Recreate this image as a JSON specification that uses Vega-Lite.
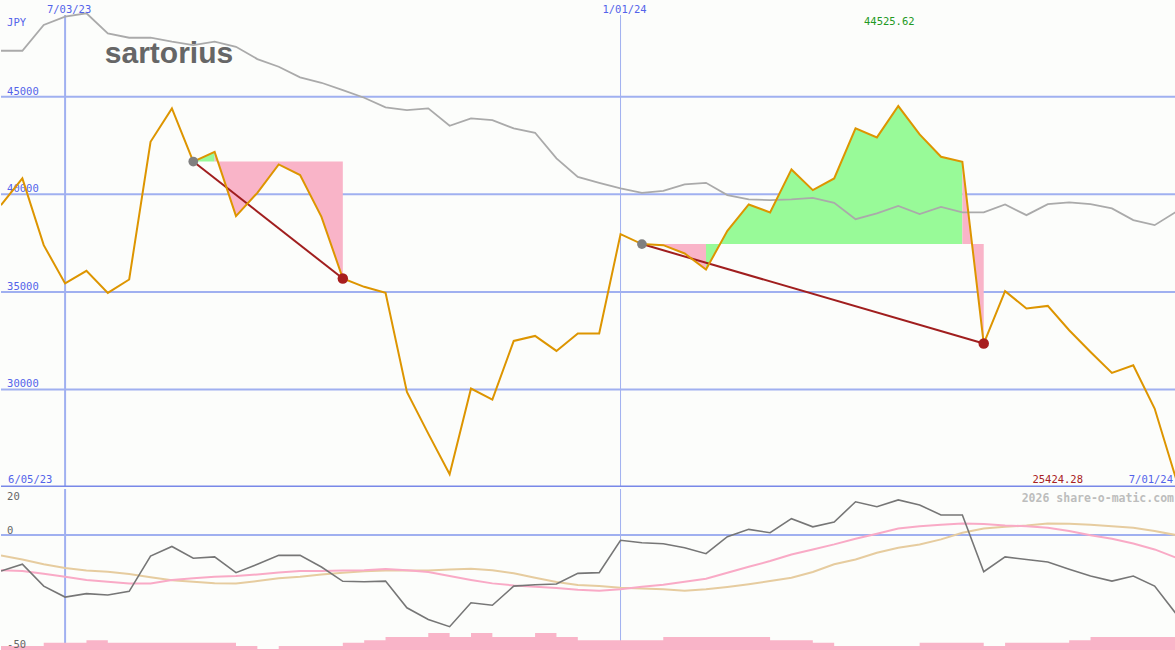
{
  "$schema": "https://vega.github.io/schema/vega-lite/v6.json",
  "background": "#FCFDFB",
  "padding": 0,
  "spacing": 0,
  "config": {"view": {"stroke": null}, "axis": {"disable": true}, "text": {"font": "DejaVu Sans Mono", "fontSize": 10.5}},
  "datasets": {
    "w": [
      {"i":0,"d":"2023-06-12","p":39446,"b":47359,"m":-15.8,"k":-15.4,"t":-9.0,"v":120},
      {"i":1,"d":"2023-06-19","p":40815,"b":47359,"m":-12.8,"k":-15.8,"t":-10.7,"v":120},
      {"i":2,"d":"2023-06-26","p":37395,"b":48677,"m":-22.4,"k":-17.0,"t":-12.8,"v":186},
      {"i":3,"d":"2023-07-03","p":35431,"b":49103,"m":-27.2,"k":-18.3,"t":-14.5,"v":186},
      {"i":4,"d":"2023-07-10","p":36077,"b":49277,"m":-25.7,"k":-19.7,"t":-15.6,"v":234},
      {"i":5,"d":"2023-07-17","p":34949,"b":48251,"m":-26.3,"k":-20.5,"t":-16.1,"v":186},
      {"i":6,"d":"2023-07-24","p":35636,"b":48026,"m":-24.7,"k":-21.2,"t":-17.1,"v":186},
      {"i":7,"d":"2023-07-31","p":42692,"b":48026,"m":-9.2,"k":-21.2,"t":-18.5,"v":186},
      {"i":8,"d":"2023-08-07","p":44405,"b":47821,"m":-5.0,"k":-19.7,"t":-19.8,"v":186},
      {"i":9,"d":"2023-08-14","p":41680,"b":47651,"m":-10.2,"k":-19.0,"t":-20.5,"v":186},
      {"i":10,"d":"2023-08-21","p":42179,"b":47821,"m":-9.6,"k":-18.3,"t":-21.1,"v":186},
      {"i":11,"d":"2023-08-28","p":38882,"b":47564,"m":-16.5,"k":-18.0,"t":-21.2,"v":120},
      {"i":12,"d":"2023-09-04","p":40077,"b":46933,"m":-12.8,"k":-17.3,"t":-20.2,"v":60},
      {"i":13,"d":"2023-09-11","p":41533,"b":46538,"m":-8.9,"k":-16.4,"t":-19.0,"v":120},
      {"i":14,"d":"2023-09-18","p":40985,"b":45995,"m":-8.9,"k":-15.8,"t":-18.3,"v":120},
      {"i":15,"d":"2023-09-25","p":38846,"b":45718,"m":-14.0,"k":-15.8,"t":-17.3,"v":120},
      {"i":16,"d":"2023-10-02","p":35687,"b":45344,"m":-20.3,"k":-15.5,"t":-16.5,"v":186},
      {"i":17,"d":"2023-10-09","p":35260,"b":44949,"m":-20.5,"k":-15.4,"t":-15.9,"v":234},
      {"i":18,"d":"2023-10-16","p":34949,"b":44456,"m":-20.2,"k":-14.9,"t":-15.6,"v":300},
      {"i":19,"d":"2023-10-23","p":29872,"b":44318,"m":-31.9,"k":-15.4,"t":-15.6,"v":300},
      {"i":20,"d":"2023-10-30","p":27736,"b":44405,"m":-37.0,"k":-16.2,"t":-15.5,"v":380},
      {"i":21,"d":"2023-11-06","p":25650,"b":43513,"m":-40.2,"k":-18.0,"t":-15.1,"v":300},
      {"i":22,"d":"2023-11-13","p":30046,"b":43892,"m":-29.7,"k":-19.7,"t":-14.8,"v":380},
      {"i":23,"d":"2023-11-20","p":29482,"b":43805,"m":-30.8,"k":-21.2,"t":-15.4,"v":300},
      {"i":24,"d":"2023-11-27","p":32487,"b":43379,"m":-22.4,"k":-22.1,"t":-16.8,"v":300},
      {"i":25,"d":"2023-12-04","p":32744,"b":43154,"m":-21.8,"k":-22.7,"t":-18.7,"v":380},
      {"i":26,"d":"2023-12-11","p":31974,"b":41841,"m":-21.5,"k":-23.2,"t":-20.6,"v":300},
      {"i":27,"d":"2023-12-18","p":32867,"b":40897,"m":-16.8,"k":-24.0,"t":-21.9,"v":234},
      {"i":28,"d":"2023-12-25","p":32867,"b":40590,"m":-16.5,"k":-24.4,"t":-22.4,"v":234},
      {"i":29,"d":"2024-01-01","p":37959,"b":40303,"m":-2.3,"k":-23.8,"t":-23.1,"v":234},
      {"i":30,"d":"2024-01-08","p":37450,"b":40077,"m":-3.4,"k":-22.7,"t":-23.5,"v":234},
      {"i":31,"d":"2024-01-15","p":37395,"b":40179,"m":-3.8,"k":-21.8,"t":-23.8,"v":300},
      {"i":32,"d":"2024-01-22","p":36969,"b":40508,"m":-5.6,"k":-20.5,"t":-24.4,"v":300},
      {"i":33,"d":"2024-01-29","p":36149,"b":40590,"m":-8.2,"k":-19.2,"t":-23.8,"v":300},
      {"i":34,"d":"2024-02-05","p":38128,"b":39959,"m":-0.7,"k":-16.5,"t":-22.8,"v":300},
      {"i":35,"d":"2024-02-12","p":39482,"b":39738,"m":2.5,"k":-13.9,"t":-21.6,"v":300},
      {"i":36,"d":"2024-02-19","p":39072,"b":39703,"m":1.0,"k":-11.4,"t":-20.2,"v":234},
      {"i":37,"d":"2024-02-26","p":41277,"b":39738,"m":7.2,"k":-8.5,"t":-18.7,"v":234},
      {"i":38,"d":"2024-03-04","p":40215,"b":39821,"m":3.6,"k":-6.3,"t":-16.2,"v":186},
      {"i":39,"d":"2024-03-11","p":40815,"b":39564,"m":5.7,"k":-4.1,"t":-12.8,"v":120},
      {"i":40,"d":"2024-03-18","p":43379,"b":38728,"m":14.6,"k":-1.6,"t":-10.7,"v":120},
      {"i":41,"d":"2024-03-25","p":42918,"b":39021,"m":12.4,"k":0.6,"t":-7.8,"v":120},
      {"i":42,"d":"2024-04-01","p":44525.62,"b":39410,"m":15.4,"k":2.9,"t":-5.6,"v":120},
      {"i":43,"d":"2024-04-08","p":43072,"b":38985,"m":13.2,"k":3.9,"t":-4.1,"v":186},
      {"i":44,"d":"2024-04-15","p":41923,"b":39359,"m":8.8,"k":4.5,"t":-1.9,"v":186},
      {"i":45,"d":"2024-04-22","p":41667,"b":39072,"m":8.8,"k":5.1,"t":1.0,"v":186},
      {"i":46,"d":"2024-04-29","p":32354,"b":39072,"m":-16.1,"k":4.8,"t":2.9,"v":120},
      {"i":47,"d":"2024-05-06","p":35036,"b":39482,"m":-9.6,"k":4.2,"t":3.6,"v":186},
      {"i":48,"d":"2024-05-13","p":34149,"b":38933,"m":-10.7,"k":3.9,"t":4.2,"v":186},
      {"i":49,"d":"2024-05-20","p":34282,"b":39497,"m":-11.8,"k":3.2,"t":5.1,"v":186},
      {"i":50,"d":"2024-05-27","p":33036,"b":39585,"m":-15.0,"k":1.8,"t":5.0,"v":234},
      {"i":51,"d":"2024-06-03","p":31923,"b":39497,"m":-18.0,"k":-0.1,"t":4.5,"v":300},
      {"i":52,"d":"2024-06-10","p":30846,"b":39277,"m":-20.2,"k":-1.6,"t":3.9,"v":300},
      {"i":53,"d":"2024-06-17","p":31241,"b":38677,"m":-18.0,"k":-3.7,"t":3.2,"v":300},
      {"i":54,"d":"2024-06-24","p":29021,"b":38421,"m":-22.4,"k":-6.3,"t":1.8,"v":300},
      {"i":55,"d":"2024-07-01","p":25424.28,"b":39103,"m":-34.5,"k":-9.9,"t":0.0,"v":300}
    ]
  },
  "vconcat": [
    {
      "width": 1175,
      "height": 487,
      "layer": [
        {
          "data": {"values": [{"g":45000},{"g":40000},{"g":35000},{"g":30000}]},
          "mark": {"type": "rule", "color": "#A0B0F0", "strokeWidth": 2},
          "encoding": {"y": {"field": "g", "type": "quantitative", "scale": {"domain": [25000, 49960], "nice": false, "zero": false}, "axis": null}}
        },
        {
          "data": {"values": [{"g":45000},{"g":40000},{"g":35000},{"g":30000}]},
          "mark": {"type": "text", "align": "left", "baseline": "alphabetic", "dy": -2, "color": "#5363EA"},
          "encoding": {
            "x": {"datum": {"year":2023,"month":6,"date":14,"utc":true}, "type": "temporal", "scale": {"type":"utc","domain":[{"year":2023,"month":6,"date":12,"utc":true},{"year":2024,"month":7,"date":1,"utc":true}]}, "axis": null},
            "y": {"field": "g", "type": "quantitative", "scale": {"domain": [25000, 49960], "nice": false, "zero": false}, "axis": null},
            "text": {"field": "g", "type": "quantitative", "format": "d"}
          }
        },
        {
          "data": {"values": [{}]},
          "mark": {"type": "rule", "color": "#A0B0F0", "strokeWidth": 2},
          "encoding": {
            "x": {"datum": {"year":2023,"month":7,"date":3,"utc":true}, "type": "temporal", "scale": {"type":"utc","domain":[{"year":2023,"month":6,"date":12,"utc":true},{"year":2024,"month":7,"date":1,"utc":true}]}, "axis": null},
            "y": {"datum": 49190, "scale": {"domain": [25000, 49960], "nice": false, "zero": false}, "axis": null},
            "y2": {"datum": 25000}
          }
        },
        {
          "data": {"values": [{}]},
          "mark": {"type": "rule", "color": "#A0B0F0", "strokeWidth": 1},
          "encoding": {
            "x": {"datum": {"year":2024,"month":1,"date":1,"utc":true}, "type": "temporal", "scale": {"type":"utc","domain":[{"year":2023,"month":6,"date":12,"utc":true},{"year":2024,"month":7,"date":1,"utc":true}]}, "axis": null},
            "y": {"datum": 49190, "scale": {"domain": [25000, 49960], "nice": false, "zero": false}, "axis": null},
            "y2": {"datum": 25000}
          }
        },
        {
          "data": {"values": [{}]},
          "mark": {"type": "rule", "color": "#7888E8", "strokeWidth": 2, "clip": true},
          "encoding": {
            "y": {"datum": 25026, "scale": {"domain": [25000, 49960], "nice": false, "zero": false}, "axis": null}
          }
        },
        {
          "data": {"values": [{}]},
          "mark": {"type": "text", "align": "left", "baseline": "alphabetic", "font": "Liberation Sans", "fontWeight": "bold", "fontSize": 30, "color": "#666666"},
          "encoding": {
            "x": {"datum": {"year":2023,"month":7,"date":16,"utc":true}, "type": "temporal", "scale": {"type":"utc","domain":[{"year":2023,"month":6,"date":12,"utc":true},{"year":2024,"month":7,"date":1,"utc":true}]}, "axis": null},
            "y": {"datum": 46728, "scale": {"domain": [25000, 49960], "nice": false, "zero": false}, "axis": null},
            "text": {"value": "sartorius"}
          }
        },
        {
          "data": {"name": "w"},
          "transform": [{"filter": {"field": "i", "range": [9, 10]}}],
          "mark": {"type": "area", "color": "#98FA98", "opacity": 1},
          "encoding": {
            "x": {"field": "d", "type": "temporal", "scale": {"type":"utc","domain":[{"year":2023,"month":6,"date":12,"utc":true},{"year":2024,"month":7,"date":1,"utc":true}]}, "axis": null},
            "y": {"field": "p", "type": "quantitative", "scale": {"domain": [25000, 49960], "nice": false, "zero": false}, "axis": null},
            "y2": {"datum": 41680}
          }
        },
        {
          "data": {"name": "w"},
          "transform": [{"filter": {"field": "i", "range": [10, 16]}}],
          "mark": {"type": "area", "color": "#F9B4C8", "opacity": 1},
          "encoding": {
            "x": {"field": "d", "type": "temporal", "scale": {"type":"utc","domain":[{"year":2023,"month":6,"date":12,"utc":true},{"year":2024,"month":7,"date":1,"utc":true}]}, "axis": null},
            "y": {"field": "p", "type": "quantitative", "scale": {"domain": [25000, 49960], "nice": false, "zero": false}, "axis": null},
            "y2": {"datum": 41680}
          }
        },
        {
          "data": {"name": "w"},
          "transform": [{"filter": {"field": "i", "range": [30, 33]}}],
          "mark": {"type": "area", "color": "#F9B4C8", "opacity": 1},
          "encoding": {
            "x": {"field": "d", "type": "temporal", "scale": {"type":"utc","domain":[{"year":2023,"month":6,"date":12,"utc":true},{"year":2024,"month":7,"date":1,"utc":true}]}, "axis": null},
            "y": {"field": "p", "type": "quantitative", "scale": {"domain": [25000, 49960], "nice": false, "zero": false}, "axis": null},
            "y2": {"datum": 37450}
          }
        },
        {
          "data": {"name": "w"},
          "transform": [{"filter": {"field": "i", "range": [33, 45]}}],
          "mark": {"type": "area", "color": "#98FA98", "opacity": 1},
          "encoding": {
            "x": {"field": "d", "type": "temporal", "scale": {"type":"utc","domain":[{"year":2023,"month":6,"date":12,"utc":true},{"year":2024,"month":7,"date":1,"utc":true}]}, "axis": null},
            "y": {"field": "p", "type": "quantitative", "scale": {"domain": [25000, 49960], "nice": false, "zero": false}, "axis": null},
            "y2": {"datum": 37450}
          }
        },
        {
          "data": {"name": "w"},
          "transform": [{"filter": {"field": "i", "range": [45, 46]}}],
          "mark": {"type": "area", "color": "#F9B4C8", "opacity": 1},
          "encoding": {
            "x": {"field": "d", "type": "temporal", "scale": {"type":"utc","domain":[{"year":2023,"month":6,"date":12,"utc":true},{"year":2024,"month":7,"date":1,"utc":true}]}, "axis": null},
            "y": {"field": "p", "type": "quantitative", "scale": {"domain": [25000, 49960], "nice": false, "zero": false}, "axis": null},
            "y2": {"datum": 37450}
          }
        },
        {
          "data": {"name": "w"},
          "mark": {"type": "line", "color": "#AAAAAA", "strokeWidth": 1.8, "clip": true},
          "encoding": {
            "x": {"field": "d", "type": "temporal", "scale": {"type":"utc","domain":[{"year":2023,"month":6,"date":12,"utc":true},{"year":2024,"month":7,"date":1,"utc":true}]}, "axis": null},
            "y": {"field": "b", "type": "quantitative", "scale": {"domain": [25000, 49960], "nice": false, "zero": false}, "axis": null}
          }
        },
        {
          "data": {"name": "w"},
          "transform": [{"filter": {"field": "i", "oneOf": [9, 16]}}],
          "mark": {"type": "line", "color": "#A01E1E", "strokeWidth": 2},
          "encoding": {
            "x": {"field": "d", "type": "temporal", "scale": {"type":"utc","domain":[{"year":2023,"month":6,"date":12,"utc":true},{"year":2024,"month":7,"date":1,"utc":true}]}, "axis": null},
            "y": {"field": "p", "type": "quantitative", "scale": {"domain": [25000, 49960], "nice": false, "zero": false}, "axis": null}
          }
        },
        {
          "data": {"name": "w"},
          "transform": [{"filter": {"field": "i", "oneOf": [30, 46]}}],
          "mark": {"type": "line", "color": "#A01E1E", "strokeWidth": 2},
          "encoding": {
            "x": {"field": "d", "type": "temporal", "scale": {"type":"utc","domain":[{"year":2023,"month":6,"date":12,"utc":true},{"year":2024,"month":7,"date":1,"utc":true}]}, "axis": null},
            "y": {"field": "p", "type": "quantitative", "scale": {"domain": [25000, 49960], "nice": false, "zero": false}, "axis": null}
          }
        },
        {
          "data": {"name": "w"},
          "mark": {"type": "line", "color": "#DD9500", "strokeWidth": 2, "clip": true},
          "encoding": {
            "x": {"field": "d", "type": "temporal", "scale": {"type":"utc","domain":[{"year":2023,"month":6,"date":12,"utc":true},{"year":2024,"month":7,"date":1,"utc":true}]}, "axis": null},
            "y": {"field": "p", "type": "quantitative", "scale": {"domain": [25000, 49960], "nice": false, "zero": false}, "axis": null}
          }
        },
        {
          "data": {"name": "w"},
          "transform": [{"filter": {"field": "i", "oneOf": [9, 30]}}],
          "mark": {"type": "point", "filled": true, "color": "#808080", "opacity": 1, "size": 95},
          "encoding": {
            "x": {"field": "d", "type": "temporal", "scale": {"type":"utc","domain":[{"year":2023,"month":6,"date":12,"utc":true},{"year":2024,"month":7,"date":1,"utc":true}]}, "axis": null},
            "y": {"field": "p", "type": "quantitative", "scale": {"domain": [25000, 49960], "nice": false, "zero": false}, "axis": null}
          }
        },
        {
          "data": {"name": "w"},
          "transform": [{"filter": {"field": "i", "oneOf": [16, 46]}}],
          "mark": {"type": "point", "filled": true, "color": "#A81E1E", "opacity": 1, "size": 110},
          "encoding": {
            "x": {"field": "d", "type": "temporal", "scale": {"type":"utc","domain":[{"year":2023,"month":6,"date":12,"utc":true},{"year":2024,"month":7,"date":1,"utc":true}]}, "axis": null},
            "y": {"field": "p", "type": "quantitative", "scale": {"domain": [25000, 49960], "nice": false, "zero": false}, "axis": null}
          }
        },
        {
          "data": {"values": [{}]},
          "mark": {"type": "text", "align": "left", "baseline": "alphabetic", "color": "#5363EA"},
          "encoding": {
            "x": {"datum": {"year":2023,"month":6,"date":14,"utc":true}, "type": "temporal", "scale": {"type":"utc","domain":[{"year":2023,"month":6,"date":12,"utc":true},{"year":2024,"month":7,"date":1,"utc":true}]}, "axis": null},
            "y": {"datum": 48650, "scale": {"domain": [25000, 49960], "nice": false, "zero": false}, "axis": null},
            "text": {"value": "JPY"}
          }
        },
        {
          "data": {"values": [{}]},
          "mark": {"type": "text", "align": "center", "baseline": "alphabetic", "dx": 4, "color": "#5363EA"},
          "encoding": {
            "x": {"datum": {"year":2023,"month":7,"date":3,"utc":true}, "type": "temporal", "scale": {"type":"utc","domain":[{"year":2023,"month":6,"date":12,"utc":true},{"year":2024,"month":7,"date":1,"utc":true}]}, "axis": null},
            "y": {"datum": 49290, "scale": {"domain": [25000, 49960], "nice": false, "zero": false}, "axis": null},
            "text": {"value": "7/03/23"}
          }
        },
        {
          "data": {"values": [{}]},
          "mark": {"type": "text", "align": "center", "baseline": "alphabetic", "dx": 4, "color": "#5363EA"},
          "encoding": {
            "x": {"datum": {"year":2024,"month":1,"date":1,"utc":true}, "type": "temporal", "scale": {"type":"utc","domain":[{"year":2023,"month":6,"date":12,"utc":true},{"year":2024,"month":7,"date":1,"utc":true}]}, "axis": null},
            "y": {"datum": 49290, "scale": {"domain": [25000, 49960], "nice": false, "zero": false}, "axis": null},
            "text": {"value": "1/01/24"}
          }
        },
        {
          "data": {"values": [{}]},
          "mark": {"type": "text", "align": "center", "baseline": "alphabetic", "dx": -9, "color": "#229922"},
          "encoding": {
            "x": {"datum": {"year":2024,"month":4,"date":1,"utc":true}, "type": "temporal", "scale": {"type":"utc","domain":[{"year":2023,"month":6,"date":12,"utc":true},{"year":2024,"month":7,"date":1,"utc":true}]}, "axis": null},
            "y": {"datum": 48677, "scale": {"domain": [25000, 49960], "nice": false, "zero": false}, "axis": null},
            "text": {"value": "44525.62"}
          }
        },
        {
          "data": {"values": [{}]},
          "mark": {"type": "text", "align": "left", "baseline": "alphabetic", "dx": 1, "color": "#5363EA"},
          "encoding": {
            "x": {"datum": {"year":2023,"month":6,"date":14,"utc":true}, "type": "temporal", "scale": {"type":"utc","domain":[{"year":2023,"month":6,"date":12,"utc":true},{"year":2024,"month":7,"date":1,"utc":true}]}, "axis": null},
            "y": {"datum": 25205, "scale": {"domain": [25000, 49960], "nice": false, "zero": false}, "axis": null},
            "text": {"value": "6/05/23"}
          }
        },
        {
          "data": {"values": [{}]},
          "mark": {"type": "text", "align": "right", "baseline": "alphabetic", "dx": -3, "color": "#5363EA"},
          "encoding": {
            "x": {"datum": {"year":2024,"month":7,"date":1,"utc":true}, "type": "temporal", "scale": {"type":"utc","domain":[{"year":2023,"month":6,"date":12,"utc":true},{"year":2024,"month":7,"date":1,"utc":true}]}, "axis": null},
            "y": {"datum": 25205, "scale": {"domain": [25000, 49960], "nice": false, "zero": false}, "axis": null},
            "text": {"value": "7/01/24"}
          }
        },
        {
          "data": {"values": [{}]},
          "mark": {"type": "text", "align": "right", "baseline": "alphabetic", "dx": -93, "color": "#A82222"},
          "encoding": {
            "x": {"datum": {"year":2024,"month":7,"date":1,"utc":true}, "type": "temporal", "scale": {"type":"utc","domain":[{"year":2023,"month":6,"date":12,"utc":true},{"year":2024,"month":7,"date":1,"utc":true}]}, "axis": null},
            "y": {"datum": 25205, "scale": {"domain": [25000, 49960], "nice": false, "zero": false}, "axis": null},
            "text": {"value": "25424.28"}
          }
        }
      ]
    },
    {
      "width": 1175,
      "height": 163,
      "resolve": {"scale": {"y": "independent"}},
      "layer": [
        {
          "data": {"values": [{}]},
          "mark": {"type": "rule", "color": "#A0B0F0", "strokeWidth": 2},
          "encoding": {
            "x": {"datum": {"year":2023,"month":7,"date":3,"utc":true}, "type": "temporal", "scale": {"type":"utc","domain":[{"year":2023,"month":6,"date":12,"utc":true},{"year":2024,"month":7,"date":1,"utc":true}]}, "axis": null}
          }
        },
        {
          "data": {"values": [{}]},
          "mark": {"type": "rule", "color": "#A0B0F0", "strokeWidth": 1},
          "encoding": {
            "x": {"datum": {"year":2024,"month":1,"date":1,"utc":true}, "type": "temporal", "scale": {"type":"utc","domain":[{"year":2023,"month":6,"date":12,"utc":true},{"year":2024,"month":7,"date":1,"utc":true}]}, "axis": null}
          }
        },
        {
          "data": {"values": [{}]},
          "mark": {"type": "rule", "color": "#A0B0F0", "strokeWidth": 2},
          "encoding": {
            "y": {"datum": 0, "scale": {"domain": [-51.3, 20.2], "nice": false, "zero": false}, "axis": null}
          }
        },
        {
          "data": {"name": "w"},
          "mark": {"type": "area", "color": "#F9B4C8", "opacity": 1, "interpolate": "step-after"},
          "encoding": {
            "x": {"field": "d", "type": "temporal", "scale": {"type":"utc","domain":[{"year":2023,"month":6,"date":12,"utc":true},{"year":2024,"month":7,"date":1,"utc":true}]}, "axis": null},
            "y": {"field": "v", "type": "quantitative", "scale": {"domain": [0, 3260], "nice": false}, "axis": null}
          }
        },
        {
          "data": {"name": "w"},
          "mark": {"type": "line", "color": "#E6CC9F", "strokeWidth": 2, "clip": true},
          "encoding": {
            "x": {"field": "d", "type": "temporal", "scale": {"type":"utc","domain":[{"year":2023,"month":6,"date":12,"utc":true},{"year":2024,"month":7,"date":1,"utc":true}]}, "axis": null},
            "y": {"field": "t", "type": "quantitative", "scale": {"domain": [-51.3, 20.2], "nice": false, "zero": false}, "axis": null}
          }
        },
        {
          "data": {"name": "w"},
          "mark": {"type": "line", "color": "#F9AAC6", "strokeWidth": 2, "clip": true},
          "encoding": {
            "x": {"field": "d", "type": "temporal", "scale": {"type":"utc","domain":[{"year":2023,"month":6,"date":12,"utc":true},{"year":2024,"month":7,"date":1,"utc":true}]}, "axis": null},
            "y": {"field": "k", "type": "quantitative", "scale": {"domain": [-51.3, 20.2], "nice": false, "zero": false}, "axis": null}
          }
        },
        {
          "data": {"name": "w"},
          "mark": {"type": "line", "color": "#767676", "strokeWidth": 1.6, "clip": true},
          "encoding": {
            "x": {"field": "d", "type": "temporal", "scale": {"type":"utc","domain":[{"year":2023,"month":6,"date":12,"utc":true},{"year":2024,"month":7,"date":1,"utc":true}]}, "axis": null},
            "y": {"field": "m", "type": "quantitative", "scale": {"domain": [-51.3, 20.2], "nice": false, "zero": false}, "axis": null}
          }
        },
        {
          "data": {"values": [{"lv": 14.7, "lt": "20"}, {"lv": 0, "lt": "0"}, {"lv": -50, "lt": "-50"}]},
          "mark": {"type": "text", "align": "left", "baseline": "alphabetic", "dy": -1.5, "color": "#666666"},
          "encoding": {
            "x": {"datum": {"year":2023,"month":6,"date":14,"utc":true}, "type": "temporal", "scale": {"type":"utc","domain":[{"year":2023,"month":6,"date":12,"utc":true},{"year":2024,"month":7,"date":1,"utc":true}]}, "axis": null},
            "y": {"field": "lv", "type": "quantitative", "scale": {"domain": [-51.3, 20.2], "nice": false, "zero": false}, "axis": null},
            "text": {"field": "lt", "type": "nominal"}
          }
        },
        {
          "data": {"values": [{}]},
          "mark": {"type": "text", "align": "right", "baseline": "alphabetic", "dx": -2, "fontSize": 11.5, "fontWeight": "bold", "color": "#BDBDBD"},
          "encoding": {
            "x": {"datum": {"year":2024,"month":7,"date":1,"utc":true}, "type": "temporal", "scale": {"type":"utc","domain":[{"year":2023,"month":6,"date":12,"utc":true},{"year":2024,"month":7,"date":1,"utc":true}]}, "axis": null},
            "y": {"datum": 14.5, "scale": {"domain": [-51.3, 20.2], "nice": false, "zero": false}, "axis": null},
            "text": {"value": "2026 share-o-matic.com"}
          }
        }
      ]
    }
  ]
}
